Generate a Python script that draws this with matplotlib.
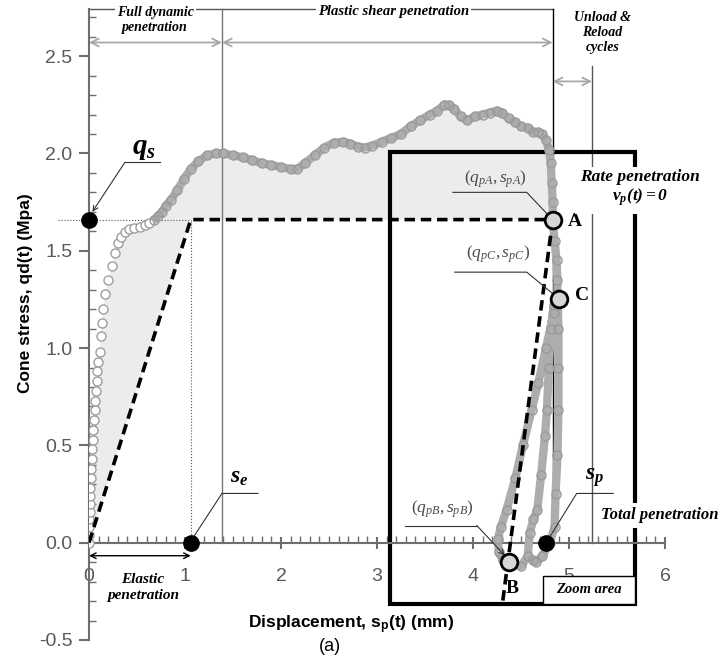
import matplotlib
matplotlib.use("Agg")
import matplotlib.pyplot as plt
from matplotlib.patches import Rectangle
from matplotlib.ticker import MultipleLocator

plt.rcParams['font.family'] = ['Liberation Sans', 'DejaVu Sans']
plt.rcParams['mathtext.fontset'] = 'custom'
plt.rcParams['mathtext.rm'] = 'Liberation Serif'
plt.rcParams['mathtext.it'] = 'Liberation Serif:italic'
plt.rcParams['mathtext.bf'] = 'Liberation Serif:bold'
plt.rcParams['mathtext.bfit'] = 'Liberation Serif:italic:bold'
plt.rcParams['mathtext.sf'] = 'Liberation Sans:bold'

# --- data ---
# initial elastic rise (distinct open circles)
s_rise = [0.00, 0.00, 0.005, 0.005, 0.01, 0.01, 0.015, 0.015, 0.02, 0.025, 0.03, 0.035,
          0.04, 0.045, 0.05, 0.06, 0.065, 0.075, 0.08, 0.085, 0.095, 0.11, 0.125, 0.135,
          0.15, 0.17, 0.20, 0.24, 0.27, 0.30, 0.33, 0.37, 0.42, 0.47, 0.53, 0.58, 0.63]
q_rise = [0.00, 0.04, 0.08, 0.12, 0.16, 0.20, 0.24, 0.28, 0.33, 0.38, 0.43, 0.48,
          0.53, 0.58, 0.63, 0.68, 0.73, 0.78, 0.83, 0.88, 0.93, 0.98, 1.06, 1.13,
          1.20, 1.28, 1.35, 1.42, 1.49, 1.54, 1.57, 1.595, 1.61, 1.615, 1.62, 1.63, 1.645]

# plastic penetration up to point A and drop
s_plastic = [0.68, 0.72, 0.76, 0.80, 0.85, 0.92, 0.99, 1.06, 1.14, 1.23, 1.32, 1.40, 1.50,
             1.60, 1.70, 1.80, 1.90, 2.00, 2.10, 2.17, 2.25, 2.35, 2.45, 2.55, 2.65, 2.72,
             2.80, 2.87, 2.95, 3.05, 3.15, 3.25, 3.35, 3.45, 3.55, 3.63, 3.70, 3.75, 3.80,
             3.87, 3.94, 4.02, 4.10, 4.18, 4.25, 4.30, 4.37, 4.44, 4.50, 4.57, 4.63, 4.68,
             4.72, 4.76, 4.79, 4.81, 4.82, 4.83, 4.83]
q_plastic = [1.66, 1.68, 1.70, 1.73, 1.76, 1.81, 1.87, 1.92, 1.96, 1.99, 2.00, 2.00, 1.99,
             1.98, 1.965, 1.95, 1.94, 1.93, 1.92, 1.92, 1.95, 1.99, 2.03, 2.055, 2.06, 2.05,
             2.035, 2.03, 2.04, 2.06, 2.08, 2.10, 2.14, 2.17, 2.20, 2.22, 2.25, 2.25, 2.23,
             2.19, 2.17, 2.19, 2.20, 2.21, 2.22, 2.21, 2.18, 2.16, 2.14, 2.13, 2.11, 2.11,
             2.10, 2.07, 2.02, 1.95, 1.85, 1.75, 1.66]

# unload / reload cycles after A
s_cycles = [4.85, 4.87, 4.88, 4.88, 4.84, 4.76, 4.68, 4.61, 4.52, 4.44, 4.35, 4.29, 4.26,
            4.27, 4.31, 4.40, 4.50, 4.57, 4.59, 4.63, 4.67, 4.71, 4.75, 4.77, 4.79, 4.81,
            4.84, 4.88, 4.89, 4.89, 4.89, 4.88, 4.86, 4.85, 4.80, 4.72, 4.66, 4.62]
q_cycles = [1.55, 1.45, 1.35, 1.28, 1.18, 1.00, 0.82, 0.68, 0.50, 0.33, 0.17, 0.08, 0.02,
            -0.05, -0.09, -0.11, -0.12, -0.07, 0.05, 0.12, 0.17, 0.35, 0.55, 0.68, 0.90, 1.10,
            1.22, 1.28, 1.10, 0.90, 0.68, 0.45, 0.25, 0.08, 0.00, -0.07, -0.10, -0.09]

q_s = 1.66
s_e = 1.06
s_p = 4.76
point_A = (4.83, 1.66)
point_B = (4.38, -0.10)
point_C = (4.90, 1.25)
unload_end = (4.31, -0.30)   # lower end of the dashed unloading line

x_ticks = [0, 1, 2, 3, 4, 5, 6]
y_ticks = [-0.5, 0.0, 0.5, 1.0, 1.5, 2.0, 2.5]

bracket_full = 1.385     # end of full dynamic penetration
bracket_unload = 5.24    # end of unload & reload cycles

W, H = 723, 663
fig = plt.figure(figsize=(W / 100, H / 100), dpi=100)
ax = fig.add_axes([89 / W, 23 / H, 576 / W, 630.6 / H])
ax.set_xlim(0, 6)
ax.set_ylim(-0.5, 2.74)

serif_bi = dict(family='Liberation Serif', weight='bold', style='italic')
white_box = dict(facecolor='white', edgecolor='none', pad=1.5)

# shaded area between curve and bilinear idealisation
s_load = s_rise + s_plastic
q_load = q_rise + q_plastic
ax.fill(s_load + [s_e, 0], q_load + [q_s, 0], color='#ececec', zorder=1, lw=0)

# reference lines
ax.plot([0, point_A[0]], [2.74, 2.74], color='#555555', lw=1, zorder=2, clip_on=False)
ax.plot([bracket_full, bracket_full], [0, 2.74], color='#777777', lw=1, zorder=2, clip_on=False)
ax.plot([point_A[0], point_A[0]], [0, 2.74], color='black', lw=1, zorder=2, clip_on=False)
ax.plot([bracket_unload, bracket_unload], [0, 2.45], color='#555555', lw=1, zorder=2)
ax.plot([-0.32, s_e], [q_s, q_s], color='#555555', lw=0.8, ls=':', zorder=2, clip_on=False)
ax.plot([s_e, s_e], [0, q_s], color='#555555', lw=0.8, ls=':', zorder=2)

# zoom rectangle
ax.add_patch(Rectangle((3.135, -0.314), 5.69 - 3.135, 2.005 + 0.314, fill=False,
                       edgecolor='black', lw=3, zorder=3, clip_on=False))

# measured curve
ax.plot(s_plastic + s_cycles, q_plastic + q_cycles, color='#adadad', lw=6,
        solid_joinstyle='round', solid_capstyle='round', zorder=4)
ax.plot(s_rise, q_rise, ls='none', marker='o', ms=6.5, mfc='white', mec='#9e9e9e', mew=1, zorder=5)
ax.plot(s_plastic + s_cycles, q_plastic + q_cycles, ls='none', marker='o', ms=6.5,
        mfc='none', mec='#9a9a9a', mew=1, zorder=5)

# bilinear idealisation and unloading line
dash = dict(color='black', lw=2.6, ls=(0, (2.9, 1.6)), zorder=6)
ax.plot([0, s_e, point_A[0]], [0, q_s, q_s], **dash)
ax.plot([point_A[0], unload_end[0]], [point_A[1], unload_end[1]], **dash)

# points
for x, y in [(0, q_s), (s_e, 0), (s_p, 0)]:
    ax.plot(x, y, 'o', ms=11, color='black', zorder=8, clip_on=False)
for pt in [point_A, point_B, point_C]:
    ax.plot(*pt, 'o', ms=12, mfc='#d6d6d6', mec='black', mew=2, zorder=8)
ax.text(4.99, 1.65, 'A', fontsize=14, family='Liberation Serif', weight='bold', va='center', zorder=9)
ax.text(5.06, 1.27, 'C', fontsize=14, family='Liberation Serif', weight='bold', va='center', zorder=9)
ax.text(4.41, -0.235, 'B', fontsize=14, family='Liberation Serif', weight='bold',
        ha='center', va='center', zorder=9)

# leader lines
lead = dict(color='#333333', lw=0.8, zorder=7)
arrow = dict(arrowstyle='->', color='#333333', lw=0.8, shrinkA=0, shrinkB=0, mutation_scale=9)

ax.plot([0.74, 0.375], [1.955, 1.955], **lead)
ax.annotate('', xy=(0.035, 1.70), xytext=(0.375, 1.955), arrowprops=arrow, zorder=7)
ax.text(0.57, 2.03, r'$\mathbfit{q_s}$', fontsize=21, ha='center', va='center')

ax.plot([3.79, 4.56, 4.78], [1.80, 1.80, 1.685], **lead)
ax.text(4.23, 1.87, r'$(q_{pA},s_{pA})$', fontsize=12.5, color='#4a4a4a', ha='center', va='center')
ax.plot([3.81, 4.56, 4.83], [1.39, 1.39, 1.28], **lead)
ax.text(4.26, 1.48, r'$(q_{pC},s_{pC})$', fontsize=12.5, color='#4a4a4a', ha='center', va='center')
ax.plot([3.29, 4.04], [0.088, 0.088], **lead)
ax.annotate('', xy=(4.33, -0.065), xytext=(4.04, 0.088), arrowprops=arrow, zorder=7)
ax.text(3.68, 0.17, r'$(q_{pB},s_{pB})$', fontsize=12.5, color='#4a4a4a', ha='center', va='center')

ax.plot([1.76, 1.385, 1.09], [0.253, 0.253, 0.03], **lead)
ax.text(1.57, 0.34, r'$\mathbfit{s_e}$', fontsize=17, ha='center', va='center')
ax.plot([5.46, 5.08, 4.80], [0.253, 0.253, 0.03], **lead)
ax.text(5.27, 0.335, r'$\mathbfit{s_p}$', fontsize=17, ha='center', va='center')

# dimension arrows
grey_arrow = dict(arrowstyle='<->', color='#a8a8a8', lw=1.3, shrinkA=0, shrinkB=0, mutation_scale=14)
ax.annotate('', xy=(0, 2.57), xytext=(bracket_full, 2.57), arrowprops=grey_arrow)
ax.annotate('', xy=(bracket_full, 2.57), xytext=(point_A[0], 2.57), arrowprops=grey_arrow)
ax.annotate('', xy=(point_A[0], 2.37), xytext=(bracket_unload, 2.37), arrowprops=grey_arrow)
ax.annotate('', xy=(0, -0.067), xytext=(s_e, -0.067),
            arrowprops=dict(arrowstyle='<->', color='black', lw=1, shrinkA=0, shrinkB=0,
                            mutation_scale=10), annotation_clip=False)

# region labels
ax.text(0.69, 2.685, 'Full dynamic\npenetration', fontsize=10, ha='center', va='center',
        linespacing=1.25, bbox=white_box, zorder=9, **serif_bi)
ax.text(3.17, 2.73, 'Plastic shear penetration', fontsize=10.5, ha='center', va='center',
        bbox=white_box, zorder=9, **serif_bi)
ax.text(5.35, 2.62, 'Unload &\nReload\ncycles', fontsize=10, ha='center', va='center',
        linespacing=1.2, zorder=9, **serif_bi)
ax.text(5.74, 1.82, 'Rate penetration\n' + r'$\mathbfit{v_p(t) = 0}$', fontsize=12.5,
        ha='center', va='center', linespacing=1.1,
        bbox=dict(facecolor='white', edgecolor='none', pad=4), zorder=9, **serif_bi)
ax.text(5.95, 0.14, 'Total penetration', fontsize=12, ha='center', va='center',
        bbox=dict(facecolor='white', edgecolor='none', pad=3), zorder=9, **serif_bi)
ax.add_patch(Rectangle((4.73, -0.314), 5.69 - 4.73, 0.144, facecolor='white',
                       edgecolor='black', lw=1, zorder=9, clip_on=False))
ax.text(5.21, -0.242, 'Zoom area', fontsize=10.5, ha='center', va='center', zorder=10, **serif_bi)
ax.text(0.56, -0.23, 'Elastic\npenetration', fontsize=11, ha='center', va='center',
        linespacing=1.3, **serif_bi)

# axes styling
for side in ['top', 'right']:
    ax.spines[side].set_visible(False)
ax.spines['bottom'].set_position(('data', 0))
for side in ['left', 'bottom']:
    ax.spines[side].set_color('#6e6e6e')
    ax.spines[side].set_linewidth(1.5)
    ax.spines[side].set_zorder(3)

ax.set_xticks(x_ticks)
ax.set_yticks(y_ticks)
ax.set_xticklabels([str(v) for v in x_ticks])
ax.set_yticklabels([f'{v:.1f}' for v in y_ticks])
ax.xaxis.set_minor_locator(MultipleLocator(0.1))
ax.yaxis.set_minor_locator(MultipleLocator(0.1))
ax.tick_params(axis='both', which='major', labelsize=14, labelcolor='#595959',
               color='#6e6e6e', width=1.5)
ax.tick_params(axis='y', which='major', direction='out', length=7, pad=5)
ax.tick_params(axis='x', which='major', direction='inout', length=9, pad=14)
ax.tick_params(axis='both', which='minor', direction='in', length=5, width=1, color='#6e6e6e')

ax.set_xlabel(r'Displacement, s$_\mathsf{p}$(t) (mm)', fontsize=12.5, weight='bold')
ax.xaxis.set_label_coords(0.455, 0.024)
ax.xaxis.label.set_va('center')
ax.set_ylabel('Cone stress, qd(t) (Mpa)', fontsize=12.5, weight='bold')
ax.yaxis.set_label_coords(-0.11, 0.55)
ax.yaxis.label.set_va('center')
ax.text(0.418, -0.011, '(a)', fontsize=13, ha='center', va='center', transform=ax.transAxes)

fig.savefig('out.png', dpi=100)
